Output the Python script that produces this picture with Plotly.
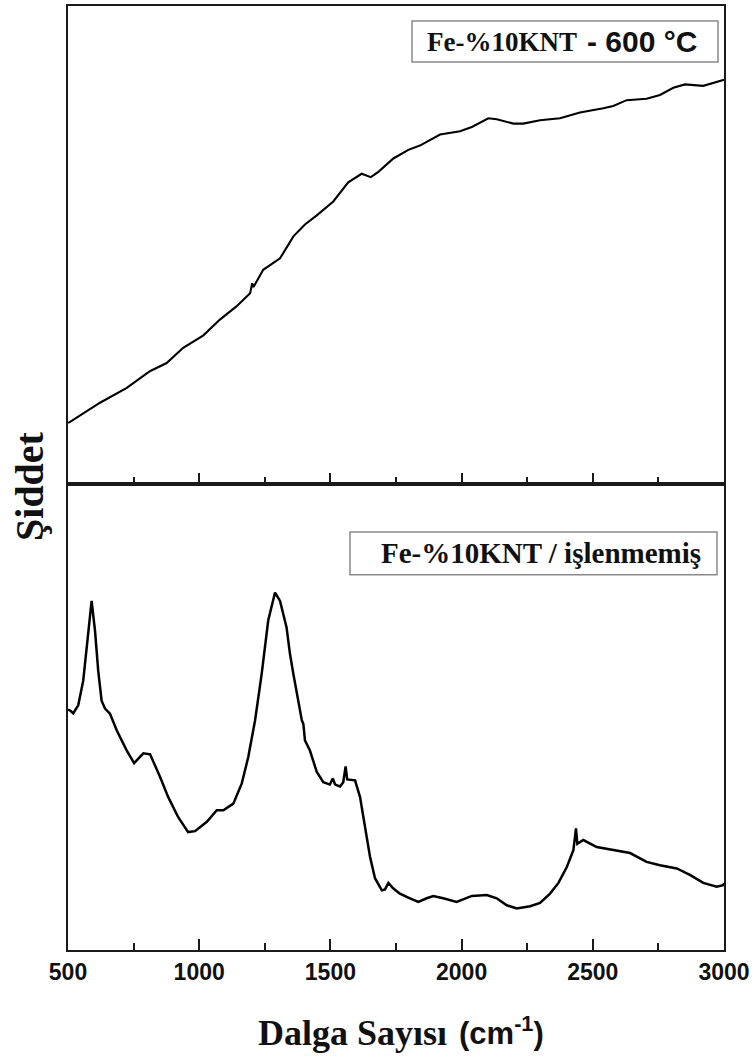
import plotly.graph_objects as go

# Wavenumber (cm-1) and intensity (a.u.) for the sample annealed at 600 °C
wn_600 = [500, 508, 622, 724, 812, 876, 939, 1016, 1079, 1143, 1194, 1202, 1207, 1244,
          1308, 1359, 1403, 1448, 1511, 1568, 1619, 1654, 1683, 1740, 1797, 1841, 1918,
          1994, 2039, 2102, 2134, 2197, 2235, 2299, 2375, 2451, 2540, 2578, 2629, 2705,
          2756, 2807, 2851, 2921, 2997, 3000]
int_600 = [12.8, 13.0, 17.0, 20.1, 23.6, 25.3, 28.5, 31.1, 34.4, 37.2, 39.9, 42.0, 41.2, 44.8,
           47.2, 51.8, 54.3, 56.2, 59.1, 63.1, 64.9, 64.2, 65.3, 68.1, 69.9, 70.8, 73.1,
           73.8, 74.7, 76.5, 76.3, 75.4, 75.4, 76.1, 76.5, 77.7, 78.6, 79.1, 80.3, 80.6,
           81.4, 82.9, 83.6, 83.3, 84.5, 84.6]

# Wavenumber (cm-1) and intensity (a.u.) for the untreated sample
wn_raw = [500, 508, 520, 539, 558, 574, 590, 603, 615, 628, 641, 660, 686, 724, 752, 787,
          813, 851, 882, 920, 958, 984, 1029, 1067, 1092, 1130, 1162, 1187, 1213, 1238,
          1263, 1289, 1308, 1333, 1346, 1359, 1372, 1391, 1397, 1403, 1422, 1448, 1473,
          1498, 1509, 1518, 1537, 1549, 1558, 1564, 1594, 1613, 1632, 1651, 1670, 1696,
          1708, 1721, 1740, 1765, 1803, 1835, 1867, 1892, 1930, 1981, 2039, 2096, 2134,
          2172, 2210, 2261, 2299, 2337, 2369, 2401, 2426, 2436, 2441, 2464, 2515, 2566,
          2642, 2705, 2756, 2820, 2870, 2921, 2972, 2997, 3000]
int_raw = [51.6, 51.4, 50.8, 52.5, 57.8, 66.4, 74.9, 68.5, 60.0, 53.5, 51.8, 50.7, 47.1,
           42.8, 40.1, 42.2, 42.0, 37.1, 32.8, 28.5, 25.3, 25.5, 27.5, 30.0, 30.0, 31.4,
           35.7, 41.4, 49.3, 59.2, 70.7, 76.7, 74.9, 69.2, 63.5, 59.2, 55.0, 49.3, 48.5,
           45.0, 42.8, 38.2, 36.0, 35.5, 36.8, 35.5, 35.1, 36.0, 39.4, 36.6, 36.4, 32.8,
           26.4, 20.0, 15.4, 12.8, 13.0, 14.4, 13.2, 12.1, 11.1, 10.3, 11.1, 11.6, 11.1,
           10.3, 11.6, 11.8, 11.1, 9.6, 8.9, 9.4, 10.1, 12.1, 14.4, 17.8, 21.4, 26.1,
           22.8, 23.6, 22.1, 21.6, 20.8, 18.9, 18.2, 17.5, 16.1, 14.4, 13.6, 13.9, 14.3]

x_ticks = [500, 1000, 1500, 2000, 2500, 3000]

W, H = 756, 1062
L, R, T, B = 68, 32, 4, 112
split = (950 - 483) / (H - T - B)
INK = "#111111"

fig = go.Figure()
fig.add_trace(go.Scatter(x=wn_raw, y=int_raw, mode="lines",
                         line=dict(color="black", width=2.5), xaxis="x", yaxis="y"))
fig.add_trace(go.Scatter(x=wn_600, y=int_600, mode="lines",
                         line=dict(color="black", width=2.1), xaxis="x2", yaxis="y2"))

frame = dict(showline=True, linecolor="#1a1a1a", linewidth=2, mirror=True,
             showgrid=False, zeroline=False)
xcommon = dict(range=[500, 3000], tickvals=x_ticks, ticks="inside", ticklen=11,
               tickwidth=2, tickcolor="#1a1a1a",
               minor=dict(dtick=250, tick0=500, ticks="inside", ticklen=7,
                          tickwidth=2, tickcolor="#1a1a1a"),
               **frame)

fig.update_layout(
    width=W, height=H, margin=dict(l=L, r=R, t=T, b=B),
    paper_bgcolor="white", plot_bgcolor="white", showlegend=False,
    xaxis=dict(domain=[0, 1], anchor="y",
               tickfont=dict(family="Liberation Sans", size=23, color=INK, weight="bold"),
               **xcommon),
    yaxis=dict(domain=[0, split], range=[0, 100], showticklabels=False, ticks="", **frame),
    xaxis2=dict(domain=[0, 1], anchor="y2", matches="x", showticklabels=False, **xcommon),
    yaxis2=dict(domain=[split, 1], range=[0, 100], showticklabels=False, ticks="", **frame),
)


def px_x(p):
    return (p - L) / (W - L - R)


def px_y(p):
    return (H - B - p) / (H - T - B)


def text(x, y, s, family, size, anchor="center", angle=0):
    fig.add_annotation(x=px_x(x), y=px_y(y), xref="paper", yref="paper", text=s,
                       showarrow=False, xanchor=anchor, yanchor="middle", textangle=angle,
                       font=dict(family=family, size=size, color=INK, weight="bold"))


SERIF, SANS = "Liberation Serif", "Liberation Sans"

# Sample label boxes
fig.add_shape(type="rect", xref="paper", yref="paper",
              x0=px_x(412), x1=px_x(718), y0=px_y(60), y1=px_y(19),
              line=dict(color="#8a8a8a", width=1.5), fillcolor="white")
fig.add_shape(type="rect", xref="paper", yref="paper",
              x0=px_x(350), x1=px_x(717), y0=px_y(574), y1=px_y(531),
              line=dict(color="#8a8a8a", width=1.5), fillcolor="white")

text(579, 40, "Fe-%10KNT", SERIF, 27, anchor="right")
text(585, 40, "- 600 °C", SANS, 30, anchor="left")
text(703, 552, "Fe-%10KNT / işlenmemiş", SERIF, 29, anchor="right")

# Axis titles
text(449, 1033, "Dalga Sayısı", SERIF, 36, anchor="right")
text(457, 1031, "(cm<sup>-1</sup>)", SANS, 31, anchor="left")
text(30, 485, "Şiddet", SERIF, 40, angle=-90)

fig.write_html("out.html")
